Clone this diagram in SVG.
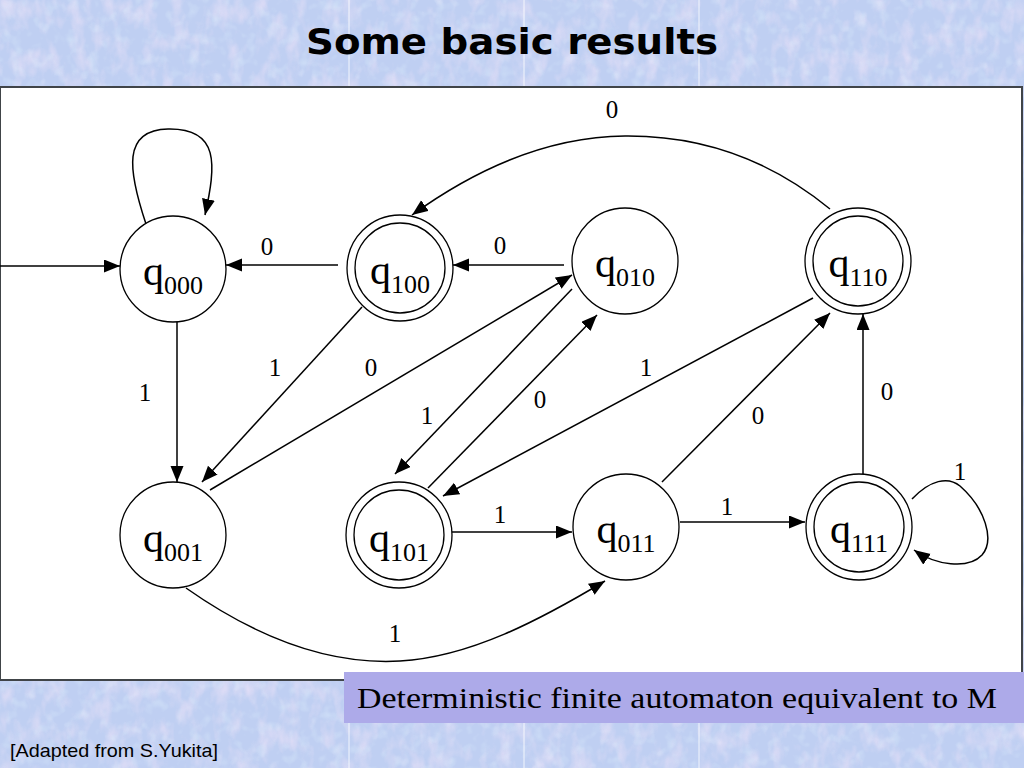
<svg xmlns="http://www.w3.org/2000/svg" width="1024" height="768" viewBox="0 0 1024 768">
<defs>
<style>
.node circle{fill:#fff;stroke:#000;stroke-width:1.3}
.node circle.in{fill:none}
.nl{font-family:"Times New Roman","Liberation Serif",serif;font-size:42px;fill:#000;text-anchor:middle}
.sub{font-size:26px}
.edge{fill:none;stroke:#000;stroke-width:1.5;marker-end:url(#ah)}
.el{font-family:"Times New Roman","Liberation Serif",serif;font-size:25px;fill:#000;text-anchor:middle}
</style>
<marker id="ah" markerUnits="userSpaceOnUse" markerWidth="18" markerHeight="14" refX="16" refY="6.5" orient="auto">
<path d="M0,0 L16,6.5 L0,13 z" fill="#000"/>
</marker>
<filter id="tex" x="0" y="0" width="100%" height="100%">
<feTurbulence type="fractalNoise" baseFrequency="0.07 0.04" numOctaves="3" seed="5"/>
<feColorMatrix type="matrix" values="0 0 0 0 0.93  0 0 0 0 0.80  0 0 0 0 0.95  1.6 0 0 0 -0.7"/>
</filter>
<filter id="tex2" x="0" y="0" width="100%" height="100%">
<feTurbulence type="fractalNoise" baseFrequency="0.09" numOctaves="2" seed="11"/>
<feColorMatrix type="matrix" values="0 0 0 0 0.80  0 0 0 0 0.94  0 0 0 0 1  0 1.6 0 0 -0.8"/>
</filter>
</defs>
<g id="background">
<rect x="0" y="0" width="1024" height="768" fill="#BFCFF2"/>
<rect x="0" y="0" width="1024" height="768" filter="url(#tex)" opacity="0.7"/>
<rect x="0" y="0" width="1024" height="768" filter="url(#tex2)" opacity="0.5"/>
<g stroke="#ffffff" stroke-width="1" opacity="0.8">
<line x1="349" y1="0" x2="349" y2="87"/><line x1="524" y1="0" x2="524" y2="87"/><line x1="699" y1="0" x2="699" y2="87"/>
<line x1="349" y1="723" x2="349" y2="768"/><line x1="524" y1="723" x2="524" y2="768"/><line x1="699" y1="723" x2="699" y2="768"/>
</g>
</g>
<text id="title" x="512" y="54" text-anchor="middle" font-family="'Comic Sans MS','DejaVu Sans',sans-serif" font-weight="bold" font-size="36" textLength="412" lengthAdjust="spacingAndGlyphs" fill="#000">Some basic results</text>
<rect id="panel" x="0" y="87" width="1022" height="593" fill="#fff" stroke="#404448" stroke-width="2"/>
<g id="connectors">
<path class="edge" d="M0,266 L120,266"/>
<path class="edge" d="M146,224 C128,170 122,130 168,129 C220,128 216,165 205,215"/>
<path class="edge" d="M338,265 L226,265"/>
<path class="edge" d="M564,265 L453,265"/>
<path class="edge" d="M830,209 Q740,135 625,136 Q520,137 412,215"/>
<path class="edge" d="M177,322 L177,482"/>
<path class="edge" d="M362,307 L202,482"/>
<path class="edge" d="M210,490 L572,275"/>
<path class="edge" d="M572,289 L395,474"/>
<path class="edge" d="M428,488 L597,315"/>
<path class="edge" d="M813,298 L443,496"/>
<path class="edge" d="M662,482 L830,313"/>
<path class="edge" d="M863,474 L863,314"/>
<path class="edge" d="M452,532 L572,532"/>
<path class="edge" d="M680,522 L805,522"/>
<path class="edge" d="M912,499 C930,480 948,476 960,486 C985,508 995,540 982,555 C968,570 935,565 914,550"/>
<path class="edge" d="M186,588 C260,640 330,665 400,661 C470,657 540,620 605,581"/>
<text class="el" x="267" y="255">0</text>
<text class="el" x="500" y="254">0</text>
<text class="el" x="612" y="118">0</text>
<text class="el" x="145" y="401">1</text>
<text class="el" x="275" y="376">1</text>
<text class="el" x="371" y="376">0</text>
<text class="el" x="427" y="424">1</text>
<text class="el" x="540" y="408">0</text>
<text class="el" x="646" y="376">1</text>
<text class="el" x="758" y="424">0</text>
<text class="el" x="887" y="400">0</text>
<text class="el" x="500" y="523">1</text>
<text class="el" x="727" y="515">1</text>
<text class="el" x="960" y="480">1</text>
<text class="el" x="395" y="642">1</text>
</g>
<g id="q000" class="node"><circle cx="173" cy="269" r="53"/><text class="nl" x="173" y="285">q<tspan class="sub" dy="9">000</tspan></text></g>
<g id="q100" class="node"><circle cx="400" cy="268" r="53"/><circle class="in" cx="400" cy="268" r="45"/><text class="nl" x="400" y="284">q<tspan class="sub" dy="9">100</tspan></text></g>
<g id="q010" class="node"><circle cx="625" cy="261" r="53"/><text class="nl" x="625" y="277">q<tspan class="sub" dy="9">010</tspan></text></g>
<g id="q110" class="node"><circle cx="858" cy="261" r="53"/><circle class="in" cx="858" cy="261" r="45"/><text class="nl" x="858" y="277">q<tspan class="sub" dy="9">110</tspan></text></g>
<g id="q001" class="node"><circle cx="173" cy="535" r="53"/><text class="nl" x="173" y="552">q<tspan class="sub" dy="9">001</tspan></text></g>
<g id="q101" class="node"><circle cx="399" cy="535" r="53"/><circle class="in" cx="399" cy="535" r="45"/><text class="nl" x="399" y="552">q<tspan class="sub" dy="9">101</tspan></text></g>
<g id="q011" class="node"><circle cx="626" cy="527" r="53"/><text class="nl" x="626" y="543">q<tspan class="sub" dy="9">011</tspan></text></g>
<g id="q111" class="node"><circle cx="859" cy="527" r="53"/><circle class="in" cx="859" cy="527" r="45"/><text class="nl" x="859" y="543">q<tspan class="sub" dy="9">111</tspan></text></g>
<g id="caption">
<rect x="344" y="672" width="680" height="51" fill="#ADAAE9"/>
<text x="357" y="708" font-family="'Times New Roman','Liberation Serif',serif" font-size="30" textLength="640" lengthAdjust="spacingAndGlyphs" fill="#000">Deterministic finite automaton equivalent to M</text>
</g>
<text id="credit" x="10" y="757" font-family="Arial,'Liberation Sans',sans-serif" font-size="19" textLength="208" lengthAdjust="spacingAndGlyphs" fill="#000">[Adapted from S.Yukita]</text>
</svg>
